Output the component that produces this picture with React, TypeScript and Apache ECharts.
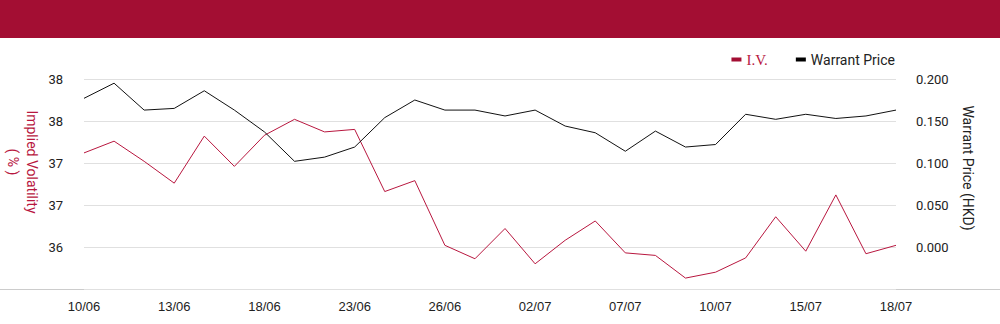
import React, { useEffect, useRef } from "react";
import * as echarts from "echarts";

const dates = [
  "10/06", "11/06", "12/06", "13/06", "16/06", "17/06", "18/06", "19/06", "20/06", "23/06",
  "24/06", "25/06", "26/06", "27/06", "30/06", "02/07", "03/07", "04/07", "07/07", "08/07",
  "09/07", "10/07", "11/07", "14/07", "15/07", "16/07", "17/07", "18/07",
];

const ivValues = [
  37.12, 37.26, 37.02, 36.76, 37.32, 36.96, 37.33, 37.52, 37.37, 37.4,
  36.66, 36.79, 36.02, 35.86, 36.22, 35.8, 36.08, 36.31, 35.93, 35.9,
  35.63, 35.7, 35.87, 36.36, 35.95, 36.62, 35.92, 36.02,
];

const priceValues = [
  0.177, 0.195, 0.163, 0.165, 0.186, 0.163, 0.137, 0.102, 0.107, 0.119,
  0.154, 0.175, 0.163, 0.163, 0.156, 0.163, 0.144, 0.136, 0.114, 0.138,
  0.119, 0.122, 0.158, 0.152, 0.158, 0.153, 0.156, 0.163,
];

const ivAxis = { min: 35.5, max: 38, interval: 0.5 };
const priceAxis = { min: -0.05, max: 0.2, interval: 0.05 };

const RED = "#b8173f";
const HEADER = "#a30e33";
const FONT = "Roboto, 'Noto Sans', sans-serif";

export default function App() {
  const ref = useRef<HTMLDivElement>(null);
  useEffect(() => {
    if (!ref.current) return;
    const chart = echarts.init(ref.current, undefined, { renderer: "svg" });
    chart.setOption({
      animation: false,
      textStyle: { fontFamily: FONT },
      grid: { left: 84, right: 104, top: 79, bottom: 35 },
      legend: {
        right: 105,
        top: 52,
        padding: 0,
        itemWidth: 10,
        itemHeight: 4,
        itemGap: 28,
        icon: "rect",
        textStyle: { fontSize: 14, color: "#222", fontFamily: FONT },
        data: [
          { name: "I.V.", textStyle: { color: RED, fontFamily: "'Liberation Serif', serif", fontSize: 15 }, itemStyle: { color: HEADER } },
          { name: "Warrant Price", itemStyle: { color: "#000" } },
        ],
      },
      graphic: [
        { type: "rect", left: 0, top: 0, shape: { width: 1000, height: 38 }, style: { fill: HEADER } },
        { type: "line", shape: { x1: 0, y1: 289.5, x2: 1000, y2: 289.5 }, style: { stroke: "#cccccc", lineWidth: 1 } },
        {
          type: "text",
          x: 22,
          y: 162,
          rotation: -Math.PI / 2,
          style: {
            text: "Implied Volatility\n( % )",
            fill: RED,
            font: `14px ${FONT}`,
            align: "center",
            verticalAlign: "middle",
            lineHeight: 19,
          },
        },
        {
          type: "text",
          x: 968,
          y: 168,
          rotation: -Math.PI / 2,
          style: {
            text: "Warrant Price (HKD)",
            fill: "#222",
            font: `14px ${FONT}`,
            align: "center",
            verticalAlign: "middle",
          },
        },
      ],
      xAxis: {
        type: "category",
        data: dates,
        boundaryGap: false,
        axisLine: { show: false },
        axisTick: { show: false },
        axisLabel: { interval: 2, margin: 11, fontSize: 13, color: "#222", fontFamily: "'Liberation Sans Narrow', 'Liberation Sans', sans-serif" },
      },
      yAxis: [
        {
          type: "value",
          min: ivAxis.min,
          max: ivAxis.max,
          interval: ivAxis.interval,
          axisLine: { show: false },
          axisTick: { show: false },
          splitLine: { lineStyle: { color: "#e0e0e0" } },
          axisLabel: {
            margin: 21,
            fontSize: 13,
            color: "#222",
            formatter: (v: number) => (v <= ivAxis.min + 1e-9 ? "" : v.toFixed(0)),
          },
        },
        {
          type: "value",
          min: priceAxis.min,
          max: priceAxis.max,
          interval: priceAxis.interval,
          axisLine: { show: false },
          axisTick: { show: false },
          splitLine: { show: false },
          axisLabel: {
            margin: 20,
            fontSize: 13,
            color: "#222",
            formatter: (v: number) => (v <= priceAxis.min + 1e-9 ? "" : v.toFixed(3)),
          },
        },
      ],
      series: [
        {
          name: "I.V.",
          type: "line",
          yAxisIndex: 0,
          data: ivValues,
          showSymbol: false,
          lineStyle: { color: RED, width: 1 },
          itemStyle: { color: HEADER },
        },
        {
          name: "Warrant Price",
          type: "line",
          yAxisIndex: 1,
          data: priceValues,
          showSymbol: false,
          lineStyle: { color: "#111", width: 1 },
          itemStyle: { color: "#000" },
        },
      ],
    });
    return () => chart.dispose();
  }, []);
  return <div ref={ref} style={{ width: 1000, height: 324, position: "absolute", left: 0, top: 0 }} />;
}
